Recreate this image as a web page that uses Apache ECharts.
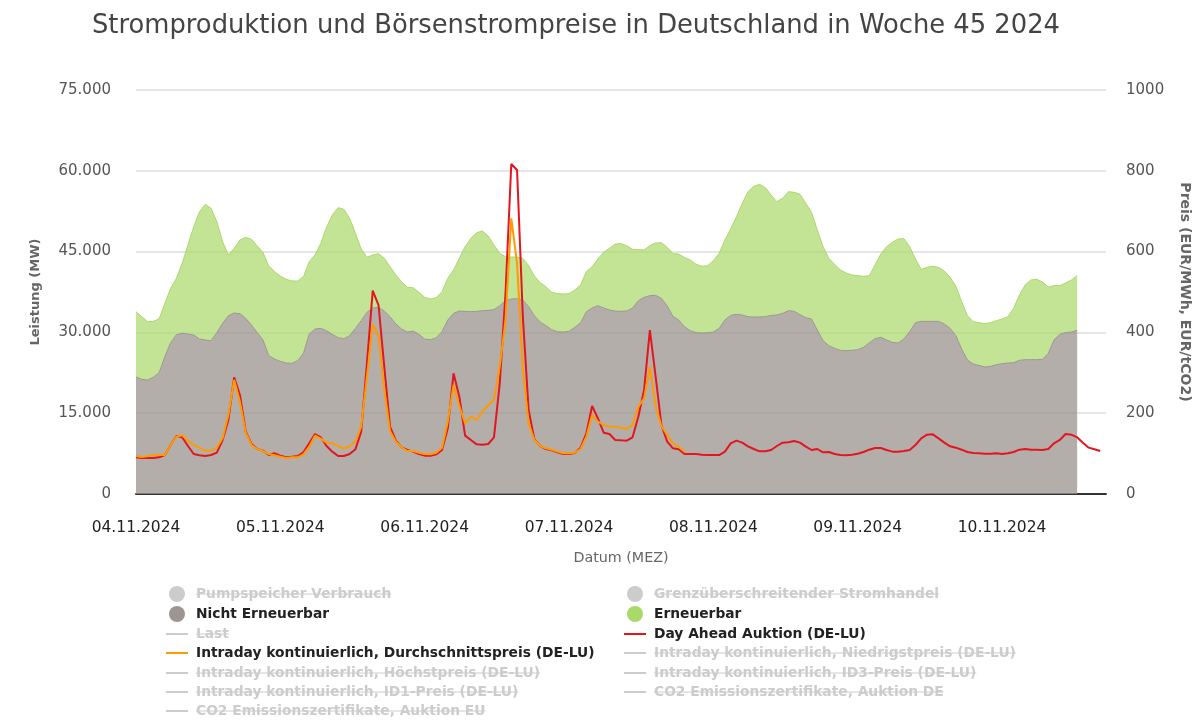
<!DOCTYPE html>
<html>
<head>
<meta charset="utf-8">
<title>Stromproduktion</title>
<script src="https://cdn.jsdelivr.net/npm/echarts@6/dist/echarts.min.js"></script>
<style>
	html,body {margin:0;padding:0;background:#fff;}
	#chart {width:1200px;height:722px;}
</style>
</head>
<body>
<div id="chart"></div>
<script>
var dayLabels = ['04.11.2024','05.11.2024','06.11.2024','07.11.2024','08.11.2024','09.11.2024','10.11.2024'];
var leistungTicks = [0,15000,30000,45000,60000,75000];
var preisTicks = [0,200,400,600,800,1000];

// MW, stundenweise
var nichtErneuerbar = [21720,21287,21163,21658,22524,25495,28094,29579,29826,29702,29517,28774,28589,28465,29950,31683,33106,33601,33477,32611,31373,29950,28589,25680,
	25061,24628,24319,24257,24752,26113,29702,30631,30754,30321,29641,29022,28836,29393,30754,32178,33725,34529,34653,33972,32920,31559,30631,30074,
	30259,29641,28774,28650,29022,30136,32301,33539,33972,33910,33848,33910,34034,34096,34220,34962,35890,36200,36262,36014,34777,33106,31930,31249,
	30507,30136,30074,30197,30940,31806,33848,34529,34962,34529,34158,33972,33910,33972,34529,35890,36509,36819,36880,36324,34900,32982,32301,31064,
	30321,29950,29888,29950,30074,30754,32301,33168,33353,33230,32920,32858,32858,32920,33168,33230,33539,34034,33910,33291,32735,32487,30445,28465,
	27537,27042,26670,26608,26670,26794,27227,28094,28836,29084,28589,28155,28032,28774,30136,31806,32054,32054,32054,32054,31559,30754,29393,26918,
	24876,24133,23886,23576,23700,24009,24195,24319,24381,24814,24938,24938,24938,25000,26113,28589,29641,29950,30074,30383];
var erneuerbar = [12128,11633,10829,10396,9963,9901,10086,10458,12995,16522,20111,23638,25185,24566,20606,15161,11262,12005,13675,15037,15903,16089,16213,16646,
	16213,15841,15532,15284,14789,14232,13428,13737,15779,19183,22153,24133,24009,21782,17636,13304,10210,9839,9963,9777,9282,9096,8787,8292,
	8044,7797,7735,7549,7426,7426,7735,8044,9777,12005,13614,14604,14789,13799,12005,9715,8168,7797,7735,7735,7611,7364,7302,7240,
	6931,7054,7054,6992,6931,6992,7426,7673,8663,10334,11448,12438,12562,12128,10891,9468,8787,9282,9715,10334,10891,11633,12252,12809,
	13119,12685,12376,12438,13242,13923,14851,16027,18131,20730,23205,24257,24628,23948,22339,21039,21349,22091,22091,22339,21225,19802,18564,17450,
	16213,15594,14913,14418,13985,13737,13180,12438,13675,15470,17326,18564,19307,18626,15779,11819,9653,10025,10210,10025,9839,9468,9220,8787,
	8230,7859,7921,8044,8106,8168,8292,8601,10086,12128,13861,14789,14913,14356,12314,10086,9034,9220,9653,10148];
// EUR/MWh
var dayAhead = [90.8,89.1,89.1,89.1,90.8,96.5,121.3,143.6,140.3,118.8,99,95.7,94.1,96.5,102.3,133.7,183.2,288.8,245,154.3,123.8,111.4,107.3,96.5,
	100.7,94.9,90.8,92.4,94.1,103.1,125.4,148.5,140.3,118.8,104.8,94.1,94.1,99,110.6,154.3,323.4,503.3,467.8,315.2,166.7,132,115.5,108.9,
	104.8,99,94.9,94.9,98.2,108.9,162.5,298.7,240.9,144.4,133.7,122.9,122.1,123.8,140.3,273.9,496.7,816.8,801.9,438.9,207.9,135.3,118.8,111.4,
	108.1,103.1,99,99,101.5,114.7,150.2,217.8,187.3,151.8,148.5,133.7,132.8,132,140.3,191.4,257.4,405.9,290.4,170.8,129.5,113,110.6,99,
	99,99,97.4,96.5,96.5,96.5,104.8,125.4,132,127.1,118,111.4,105.6,105.6,108.9,118.8,127.1,127.9,131.2,127.1,117.2,108.9,111.4,103.1,
	104,99,96.5,95.7,97.4,99.8,104,109.7,113.9,113.9,108.9,104.8,104.8,106.4,108.9,121.3,137.8,146.9,147.7,137.8,127.1,118,114.7,109.7,
	104,101.5,100.7,99.8,99.8,100.7,99,100.7,104,109.7,111.4,109.7,109.7,108.9,111.4,125.4,133.7,148.5,146.9,140.3,127.1,114.7,110.6,106.4];
var intradayMittel = [94.1,91.6,93.2,97.4,96.5,96.5,121.3,141.9,145.2,132,121.3,114.7,107.3,107.3,114.7,137.8,195.5,282.2,228.5,151.8,121.3,111.4,106.4,99,
	95.7,92.4,89.1,90.8,90.8,98.2,117.2,144.4,137,127.1,125.4,118.8,112.2,118.8,129.5,166.7,290.4,419.9,391.1,257.4,155.9,129.5,115.5,106.4,
	106.4,102.3,99,98.2,102.3,114.7,179,269.8,217.8,174.9,191.4,183.2,203.8,220.3,232.7,315.2,430.7,682.3,570.9,306.9,174.9,133.7,118.8,113,
	109.7,104.8,100.7,100.7,102.3,111.4,141.9,195.5,179,170.8,166.7,166.7,164.2,160.9,170.8,216.2,236.8,315.2,216.2,168.3,146,125.4,117.2,104.8];

// Legende: [Name, Art, aktiv]
var legendLeft = [
	['Pumpspeicher Verbrauch','dot',false],
	['Nicht Erneuerbar','dot',true,'#9d9590'],
	['Last','line',false],
	['Intraday kontinuierlich, Durchschnittspreis (DE-LU)','line',true,'#ff9a00'],
	['Intraday kontinuierlich, Höchstpreis (DE-LU)','line',false],
	['Intraday kontinuierlich, ID1-Preis (DE-LU)','line',false],
	['CO2 Emissionszertifikate, Auktion EU','line',false]
];
var legendRight = [
	['Grenzüberschreitender Stromhandel','dot',false],
	['Erneuerbar','dot',true,'#a9d968'],
	['Day Ahead Auktion (DE-LU)','line',true,'#e3151f'],
	['Intraday kontinuierlich, Niedrigstpreis (DE-LU)','line',false],
	['Intraday kontinuierlich, ID3-Preis (DE-LU)','line',false],
	['CO2 Emissionszertifikate, Auktion DE','line',false]
];
var legendRows = [594,614,634,653,673,692,711];

var fontName = 'DejaVu Sans';
var legendFont = 'bold 13.8px "'+fontName+'"';

var main = {
	el: 'chart',
	init: function() {
		var myChart = echarts.init(document.getElementById(this.el),null,{renderer:'canvas'});
		myChart.setOption(this.buildOption());
	},
	hours: function() {
		var list = [];
		for(var d=0;d<dayLabels.length;d++) {
			for(var h=0;h<24;h++) {
				list.push(dayLabels[d]);
			}
		}
		list.push('11.11.2024');
		return list;
	},
	germanNumber: function(v) {
		return String(v).replace(/\B(?=(\d{3})+$)/g,'.');
	},
	plainNumber: function(v) {
		return String(v);
	},
	legendItems: function(items,markX,textX) {
		// Durchstreichen: Breite aus dem Text messen
		var ctx = document.createElement('canvas').getContext('2d');
		ctx.font = legendFont;
		var out = [];
		for(var i=0;i<items.length;i++) {
			var it = items[i];
			var y = legendRows[i];
			var color = it[2] ? it[3] : '#cccccc';
			if(it[1] === 'dot') {
				out.push({type:'circle',shape:{cx:markX,cy:y,r:8},style:{fill:color},silent:true});
			}else {
				out.push({type:'line',shape:{x1:markX-11,y1:y,x2:markX+11,y2:y},style:{stroke:color,lineWidth:2},silent:true});
			}
			out.push({
				type:'text',x:textX,y:y,silent:true,
				style:{text:it[0],fill:it[2] ? '#222222' : '#cccccc',font:legendFont,textVerticalAlign:'middle'}
			});
			if(!it[2]) {
				out.push({type:'line',shape:{x1:textX,y1:y,x2:textX+ctx.measureText(it[0]).width,y2:y},style:{stroke:'#cccccc',lineWidth:1},silent:true});
			}
		}
		return out;
	},
	buildOption: function() {
		var axisFont = {color:'#555555',fontSize:15,fontFamily:fontName,padding:[3,0,0,0]};
		return {
			animation: false,
			textStyle: {fontFamily:fontName},
			title: {
				text: 'Stromproduktion und Börsenstrompreise in Deutschland in Woche 45 2024',
				left: 87,
				top: 8,
				textStyle: {color:'#444444',fontSize:25.8,fontWeight:'normal',fontFamily:fontName}
			},
			grid: {left:136,right:94,top:90,bottom:228,outerBoundsMode:'none'},
			xAxis: {
				type: 'category',
				boundaryGap: false,
				data: this.hours(),
				name: 'Datum (MEZ)',
				nameLocation: 'middle',
				nameGap: 57,
				nameTextStyle: {color:'#666666',fontSize:14.3},
				axisLine: {onZero:false,lineStyle:{color:'#333333',width:2}},
				axisTick: {show:false},
				splitLine: {show:false},
				axisLabel: {interval:24,margin:26,color:'#222222',fontSize:15.5,fontFamily:fontName}
			},
			yAxis: [
				{
					type: 'value',
					min: leistungTicks[0],
					max: leistungTicks[5],
					interval: leistungTicks[1],
					name: 'Leistung (MW)',
					nameLocation: 'middle',
					nameGap: 94,
					nameRotate: 90,
					nameTextStyle: {color:'#666666',fontSize:13,fontWeight:'bold'},
					axisLine: {show:false},
					axisTick: {show:false},
					splitLine: {lineStyle:{color:'#e6e6e6',width:2}},
					axisLabel: Object.assign({margin:25,formatter:this.germanNumber},axisFont)
				},
				{
					type: 'value',
					min: preisTicks[0],
					max: preisTicks[5],
					interval: preisTicks[1],
					name: 'Preis (EUR/MWh, EUR/tCO2)',
					nameLocation: 'middle',
					nameGap: 72,
					nameRotate: -90,
					nameTextStyle: {color:'#666666',fontSize:14,fontWeight:'bold'},
					axisLine: {show:false},
					axisTick: {show:false},
					splitLine: {show:false},
					axisLabel: Object.assign({margin:20,formatter:this.plainNumber},axisFont)
				}
			],
			series: [
				{
					name: 'Nicht Erneuerbar',
					type: 'line',
					stack: 'leistung',
					data: nichtErneuerbar,
					showSymbol: false,
					lineStyle: {color:'#9d9590',width:1},
					itemStyle: {color:'#9d9590'},
					areaStyle: {color:'#9d9590',opacity:0.76},
					z: 2
				},
				{
					name: 'Erneuerbar',
					type: 'line',
					stack: 'leistung',
					data: erneuerbar,
					showSymbol: false,
					lineStyle: {color:'#a9d968',width:1},
					itemStyle: {color:'#a9d968'},
					areaStyle: {color:'#a9d968',opacity:0.7},
					z: 2
				},
				{
					name: 'Day Ahead Auktion (DE-LU)',
					type: 'line',
					yAxisIndex: 1,
					data: dayAhead,
					showSymbol: false,
					lineStyle: {color:'#e3151f',width:2},
					itemStyle: {color:'#e3151f'},
					z: 3
				},
				{
					name: 'Intraday kontinuierlich, Durchschnittspreis (DE-LU)',
					type: 'line',
					yAxisIndex: 1,
					data: intradayMittel,
					showSymbol: false,
					lineStyle: {color:'#ff9a00',width:2},
					itemStyle: {color:'#ff9a00'},
					z: 4
				}
			],
			graphic: {
				elements: this.legendItems(legendLeft,177,196).concat(this.legendItems(legendRight,635,654))
			}
		};
	}
};

main.init();
</script>
</body>
</html>
